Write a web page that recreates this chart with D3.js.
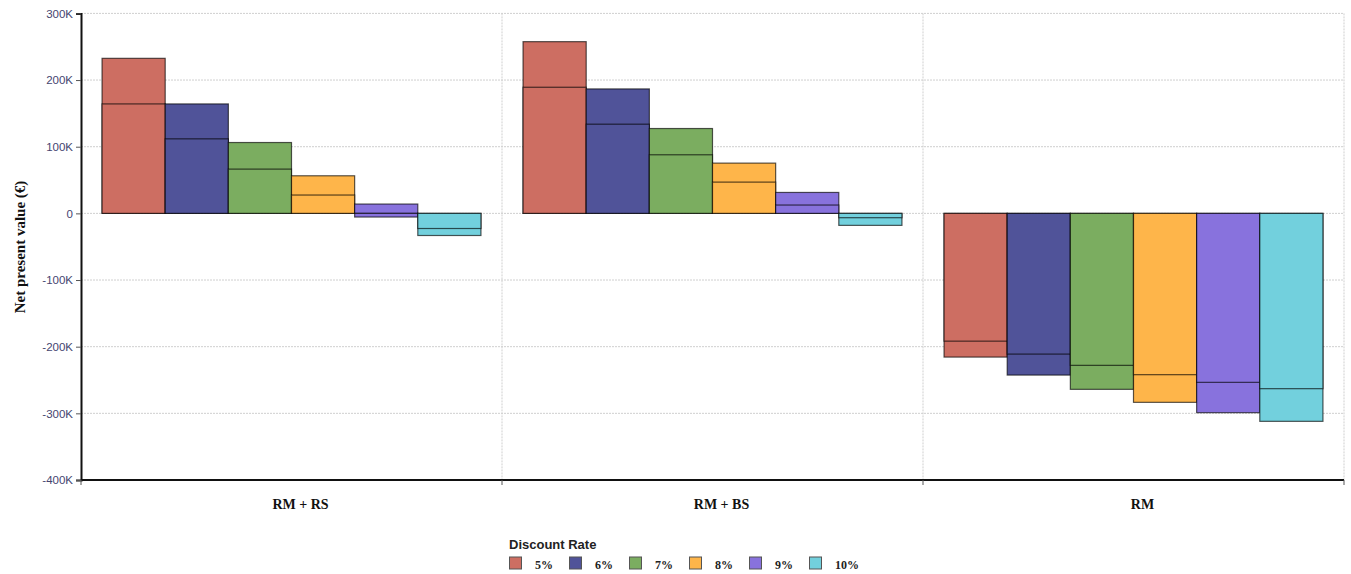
<!DOCTYPE html>
<html><head><meta charset="utf-8">
<script src="https://cdn.jsdelivr.net/npm/d3@7"></script>
<style>body{margin:0;background:#fff}svg{display:block}</style>
</head><body>
<svg id="c" width="1351" height="574"></svg>
<script>
const categories = ["RM + RS", "RM + BS", "RM"];
const rates = ["5%", "6%", "7%", "8%", "9%", "10%"];
// upper value of each pair (€)
const npvUpper = [
  [232600, 164200, 106300, 56400, 14000, -22700],
  [257600, 186700, 127300, 75400, 31400, -6500],
  [-191700, -211100, -228000, -242000, -253500, -263000]
];
// lower value of each pair (€)
const npvLower = [
  [164200, 111800, 66400, 27500, -5500, -33200],
  [189200, 133800, 87900, 46900, 12500, -18000],
  [-215600, -242600, -264000, -283500, -299000, -312000]
];
const yTicks = [-400000, -300000, -200000, -100000, 0, 100000, 200000, 300000];
const colors = ["#cd6e62", "#505399", "#7bad60", "#feb54a", "#8872dd", "#72d0dd"];

(function draw() {
const svg = d3.select("#c");
const pL = 81, pR = 1344, pT = 13.4, pB = 480;

const x = d3.scaleBand().domain(categories).range([pL, pR]).padding(0);
const bw = x.bandwidth();
const xs = d3.scaleBand().domain(rates).range([bw * 0.05, bw * 0.95]).padding(0);
const y = d3.scaleLinear().domain([-400000, 300000]).range([pB, pT]);

// grid
const grid = svg.append("g");
grid.selectAll("line.h").data(yTicks).join("line").attr("class", "h")
  .attr("x1", pL).attr("x2", pR)
  .attr("y1", d => y(d)).attr("y2", d => y(d))
  .attr("stroke", "#cfcfcf").attr("stroke-dasharray", "2,1");
const bounds = categories.map(c => x(c) + bw);
grid.selectAll("line.v").data(bounds).join("line").attr("class", "v")
  .attr("x1", d => d).attr("x2", d => d)
  .attr("y1", pT).attr("y2", pB)
  .attr("stroke", "#cfcfcf").attr("stroke-dasharray", "2,1");

// bars
const rects = [];
categories.forEach((c, ci) => {
  rates.forEach((r, ri) => {
    const pair = [npvUpper[ci][ri], npvLower[ci][ri]].sort((a, b) => Math.abs(b) - Math.abs(a));
    pair.forEach(v => rects.push({c, r, ri, v}));
  });
});
svg.append("g").selectAll("rect").data(rects).join("rect")
  .attr("x", d => x(d.c) + xs(d.r))
  .attr("width", xs.bandwidth())
  .attr("y", d => Math.min(y(d.v), y(0)))
  .attr("height", d => Math.abs(y(d.v) - y(0)))
  .attr("fill", d => colors[d.ri])
  .attr("stroke", "rgba(0,0,0,0.65)").attr("stroke-width", 1.2);

// y axis
const fmt = v => v === 0 ? "0" : (v / 1000) + "K";
const ya = svg.append("g").attr("transform", `translate(${pL},0)`)
  .call(d3.axisLeft(y).tickValues(yTicks).tickFormat(fmt).tickSize(5).tickPadding(3));
ya.select(".domain").attr("stroke", "#111").attr("stroke-width", 2);
ya.selectAll(".tick line").attr("stroke", "#555");
ya.selectAll(".tick text").attr("font-family", "Arial, 'Liberation Sans', sans-serif")
  .attr("font-size", 11.5).attr("fill", "#454570");

// x axis
const xa = svg.append("g");
xa.append("line").attr("x1", pL).attr("x2", pR).attr("y1", pB).attr("y2", pB)
  .attr("stroke", "#111").attr("stroke-width", 2);
xa.selectAll("line.t").data([pL].concat(bounds)).join("line").attr("class", "t")
  .attr("x1", d => d).attr("x2", d => d).attr("y1", pB).attr("y2", pB + 5)
  .attr("stroke", "#555");
xa.selectAll("text").data(categories).join("text")
  .attr("x", d => x(d) + bw / 2 + 9).attr("y", 509)
  .attr("text-anchor", "middle")
  .attr("font-family", "'Times New Roman', 'Liberation Serif', serif")
  .attr("font-weight", "bold").attr("font-size", 14).attr("fill", "#111")
  .text(d => d);

// y title
svg.append("text")
  .attr("transform", "translate(25,247) rotate(-90)")
  .attr("text-anchor", "middle")
  .attr("font-family", "'Times New Roman', 'Liberation Serif', serif")
  .attr("font-weight", "bold").attr("font-size", 15).attr("fill", "#111")
  .text("Net present value  (€)");

// legend
const lg = svg.append("g");
lg.append("text").attr("x", 509).attr("y", 549)
  .attr("font-family", "Arial, 'Liberation Sans', sans-serif")
  .attr("font-weight", "bold").attr("font-size", 13).attr("fill", "#222")
  .text("Discount Rate");
const items = lg.selectAll("g.it").data(rates).join("g").attr("class", "it")
  .attr("transform", (d, i) => `translate(${509 + i * 60},0)`);
items.append("rect").attr("x", 0.5).attr("y", 557).attr("width", 12).attr("height", 12)
  .attr("fill", (d, i) => colors[i]).attr("stroke", "#555").attr("stroke-width", 1);
items.append("text").attr("x", 26).attr("y", 569)
  .attr("font-family", "'Times New Roman', 'Liberation Serif', serif")
  .attr("font-weight", "bold").attr("font-size", 12).attr("fill", "#222")
  .text(d => d);
})();
</script>
</body></html>
